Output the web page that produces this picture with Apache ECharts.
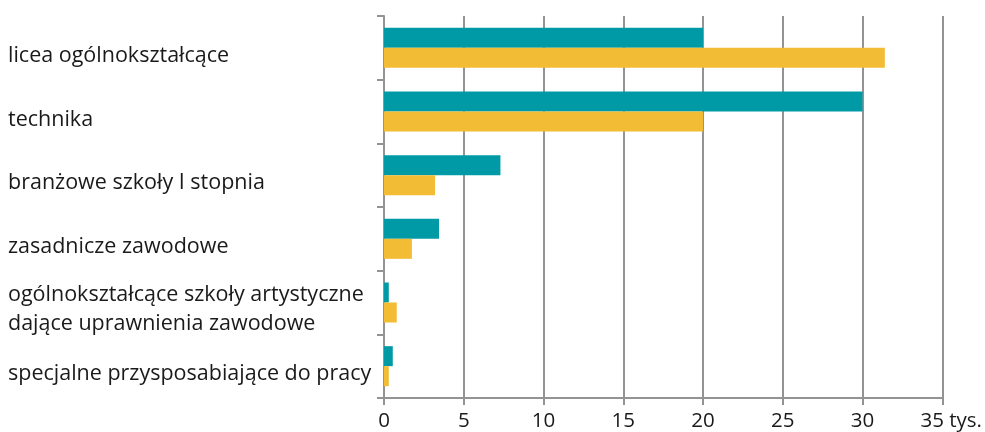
<!DOCTYPE html>
<html>
<head>
<meta charset="utf-8">
<script src="https://cdn.jsdelivr.net/npm/echarts@6/dist/echarts.min.js"></script>
<style>
html,body{margin:0;padding:0;background:#fff;}
#c{width:985px;height:432px;}
</style>
</head>
<body>
<div id="c"></div>
<script>
const categories = [
  'licea ogólnokształcące',
  'technika',
  'branżowe szkoły I stopnia',
  'zasadnicze zawodowe',
  'ogólnokształcące szkoły artystyczne\ndające uprawnienia zawodowe',
  'specjalne przysposabiające do pracy'
];
const seriesTeal = [20, 30, 7.3, 3.45, 0.3, 0.55];
const seriesOrange = [31.4, 20, 3.2, 1.75, 0.8, 0.3];
const xTicks = [0, 5, 10, 15, 20, 25, 30, 35];
const unitLabel = 'tys.';

const chart = echarts.init(document.getElementById('c'), null, {renderer: 'canvas'});
const FONT = 'Open Sans';
const catBase = {color: '#1a1a1a', fontFamily: FONT, fontSize: 21.5};
chart.setOption({
  animation: false,
  backgroundColor: '#ffffff',
  grid: {left: 384, right: 40, top: 16, bottom: 34, containLabel: false},
  xAxis: {
    type: 'value',
    min: xTicks[0],
    max: xTicks[xTicks.length - 1],
    interval: 5,
    axisLine: {show: true, lineStyle: {color: '#939393', width: 2}},
    axisTick: {show: true, length: 7, lineStyle: {color: '#939393', width: 2}},
    splitLine: {show: true, lineStyle: {color: '#939393', width: 2}},
    axisLabel: {
      color: '#1a1a1a', fontFamily: FONT, fontSize: 20.5, margin: 13,
      formatter: function (v) {
        if (v === xTicks[xTicks.length - 1]) return '{u|' + v + ' ' + unitLabel + '}';
        return String(v);
      },
      rich: {u: {color: '#1a1a1a', fontFamily: FONT, fontSize: 20.5, padding: [0, 0, 0, 18]}}
    }
  },
  yAxis: {
    type: 'category',
    inverse: true,
    data: categories,
    axisLine: {show: true, lineStyle: {color: '#939393', width: 2}},
    axisTick: {show: true, length: 7, lineStyle: {color: '#939393', width: 2}},
    axisLabel: {
      color: '#1a1a1a', fontFamily: FONT, fontSize: 21.5, lineHeight: 30,
      align: 'left', margin: 376,
      formatter: function (v) {
        const lines = v.split('\n');
        if (lines.length === 1) return '{a|' + v + '}';
        return lines.map(function (l, i) { return (i === 0 ? '{c|' : '{d|') + l + '}'; }).join('\n');
      },
      rich: {
        a: Object.assign({lineHeight: 30, padding: [16, 0, 0, 0]}, catBase),
        c: Object.assign({lineHeight: 42}, catBase),
        d: Object.assign({lineHeight: 16}, catBase)
      }
    }
  },
  series: [
    {
      type: 'bar', data: seriesTeal, barWidth: 20, barGap: '0%',
      itemStyle: {color: '#009aa6'}
    },
    {
      type: 'bar', data: seriesOrange, barWidth: 20, barGap: '0%',
      itemStyle: {color: '#f2bc35'}
    }
  ]
});
</script>
</body>
</html>
